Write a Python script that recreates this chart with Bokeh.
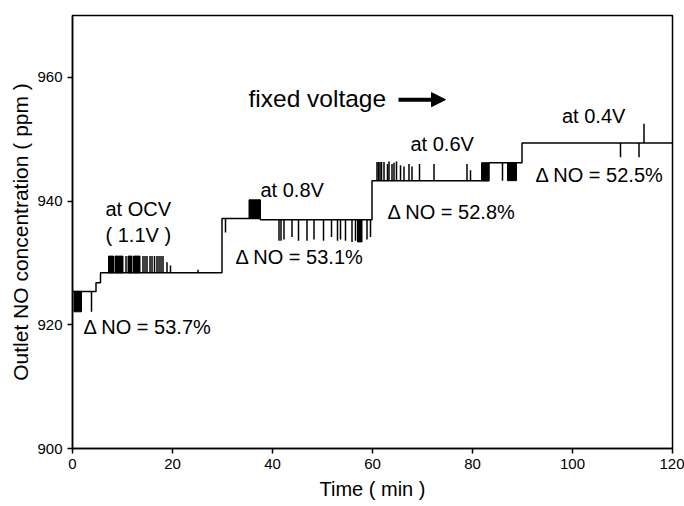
import numpy as np
from bokeh.plotting import figure
from bokeh.models import Range1d, FixedTicker, Arrow, NormalHead, Label
from bokeh.embed import file_html
from bokeh.resources import INLINE

# ---- data ----
# baseline step levels (time where each level starts, level in ppm)
level_t = [0, 4.7, 5.6, 29.9, 37.6, 59.9, 83.3, 89.9, 120]
level_v = [925.4, 926.8, 928.4, 937.2, 937.0, 943.3, 946.2, 949.4, 949.4]

# single spikes: time and the ppm value the spike reaches
spike_t = [3.8,
           10.7, 14.1, 14.5, 14.9, 15.5, 15.9, 16.4, 16.9, 17.3, 17.7, 18.1, 18.9, 19.6, 25.1,
           30.6, 41.3, 41.7, 42.3, 43.9, 45.2, 46.9, 48.3, 50.2, 51.8, 53.0, 53.6, 54.6,
           55.9, 56.6, 58.9, 59.6,
           60.9, 61.2, 61.5, 61.8, 62.3, 63.0, 63.3, 63.9, 64.3, 64.8, 65.6, 66.3, 67.3,
           67.9, 69.4, 72.3, 78.9, 79.6,
           86.0,
           109.6, 113.3, 114.3]
spike_v = [922.1,
           931.1, 931.1, 931.1, 931.1, 931.1, 931.1, 931.1, 931.1, 931.1, 931.1, 931.1, 930.1, 929.6, 928.9,
           934.9, 933.6, 933.6, 933.8, 934.2, 933.6, 933.6, 933.8, 933.6, 934.2, 933.6, 933.8, 933.6,
           933.4, 933.6, 933.8, 934.2,
           946.3, 946.3, 946.3, 946.3, 946.3, 946.0, 946.4, 946.0, 946.2, 946.4, 945.8, 945.6, 946.0,
           945.6, 946.0, 946.0, 946.0, 945.0,
           943.3,
           947.1, 947.1, 952.5]

# dense bursts drawn as solid blocks: start, end, value reached
block_t0 = [0.3, 7.2, 8.5, 11.1, 12.2, 35.3, 57.0, 81.8, 87.0]
block_t1 = [1.8, 8.2, 10.1, 11.9, 13.5, 37.6, 57.9, 83.2, 88.8]
block_v = [922.1, 931.1, 931.1, 931.1, 931.1, 940.2, 933.4, 946.2, 943.3]

x_ticks = [0, 20, 40, 60, 80, 100, 120]
y_ticks = [900, 920, 940, 960]

annotations = ["at OCV", "( 1.1V )", "\u0394 NO = 53.7%", "at 0.8V", "\u0394 NO = 53.1%",
               "at 0.6V", "\u0394 NO = 52.8%", "at 0.4V", "\u0394 NO = 52.5%"]
ann_x = [6.6, 6.6, 2.2, 37.6, 32.6, 67.6, 63.0, 97.9, 92.6]
ann_y = [938.7, 934.5, 919.7, 941.8, 930.9, 949.3, 938.2, 953.8, 944.2]

FONT = "Liberation Sans"

p = figure(width=684, height=506, x_range=Range1d(0, 120), y_range=Range1d(900, 970),
           output_backend="svg", toolbar_location=None,
           min_border_left=72, min_border_right=12, min_border_top=15, min_border_bottom=58)
p.xgrid.visible = False
p.ygrid.visible = False
p.outline_line_color = "black"
p.outline_line_width = 1.5
p.outline_line_alpha = 1.0
p.background_fill_color = "white"
p.border_fill_color = "white"

for ax, ticks in ((p.xaxis, x_ticks), (p.yaxis, y_ticks)):
    ax.ticker = FixedTicker(ticks=ticks)
    ax.minor_tick_line_color = None
    ax.major_tick_out = 5
    ax.major_tick_in = 0
    ax.axis_line_width = 1.5
    ax.major_tick_line_width = 1.5
    ax.axis_line_color = "black"
    ax.major_tick_line_color = "black"
    ax.major_label_text_font = FONT
    ax.major_label_text_font_size = "15px"
    ax.major_label_text_color = "black"
    ax.axis_label_text_font = FONT
    ax.axis_label_text_font_style = "normal"
    ax.axis_label_text_color = "black"

p.xaxis.axis_label = "Time ( min )"
p.yaxis.axis_label = "Outlet NO concentration ( ppm )"
p.xaxis.axis_label_text_font_size = "20px"
p.yaxis.axis_label_text_font_size = "21px"
p.xaxis.axis_label_standoff = 6
p.yaxis.axis_label_standoff = 2

# baseline steps
p.step(level_t, level_v, mode="after", line_color="black", line_width=1.5)

lt = np.array(level_t)
lv = np.array(level_v)

def level_at(t):
    idx = np.searchsorted(lt, np.asarray(t), side="right") - 1
    idx = np.clip(idx, 0, len(lv) - 1)
    return lv[idx]

s_base = level_at(spike_t)
p.segment(x0=spike_t, y0=s_base, x1=spike_t, y1=spike_v, line_color="black", line_width=1.5)

b_base = level_at(block_t0)
bv = np.array(block_v)
p.quad(left=block_t0, right=block_t1, bottom=np.minimum(b_base, bv), top=np.maximum(b_base, bv),
       fill_color="black", line_color="black", line_width=1)

for txt, x, y in zip(annotations, ann_x, ann_y):
    p.add_layout(Label(x=x, y=y, text=txt, text_font=FONT, text_font_size="20px",
                       text_baseline="middle", text_align="left", text_color="black"))

p.add_layout(Label(x=35.2, y=956.6, text="fixed voltage", text_font=FONT, text_font_size="24.5px",
                   text_baseline="middle", text_align="left", text_color="black"))
p.add_layout(Arrow(end=NormalHead(size=14, fill_color="black", line_color="black"),
                   x_start=65.2, y_start=956.4, x_end=74.6, y_end=956.4,
                   line_width=4, line_color="black"))

open("out.html", "w").write(file_html(p, INLINE))
